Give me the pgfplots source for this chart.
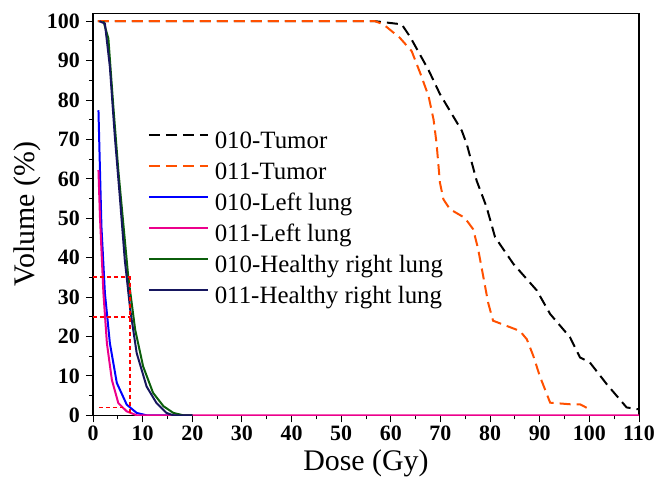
\documentclass[border=0pt]{standalone}
\usepackage{pgfplots}
\pgfplotsset{compat=1.18}
\usepackage{fontspec}
\setmainfont{Liberation Serif}
\definecolor{tumorB}{HTML}{FF5000}
\definecolor{hgreen}{HTML}{0B5E0B}
\definecolor{hnavy}{HTML}{16165E}
\begin{document}
\begin{tikzpicture}
\begin{axis}[
    scale only axis, width=546bp, height=402bp,
    xmin=0, xmax=110, ymin=0, ymax=102,
    xtick={0,10,...,110}, ytick={0,10,...,100},
    minor xtick={5,15,...,105}, minor ytick={5,15,...,95},
    tick align=outside, xtick pos=left, ytick pos=left,
    major tick length=7bp, minor tick length=4bp,
    every tick/.style={black, line width=1pt},
    axis line style={line width=1.2pt},
    xticklabel={\textbf{\pgfmathprintnumber[assume math mode=true]{\tick}}},
    yticklabel={\textbf{\pgfmathprintnumber[assume math mode=true]{\tick}}},
    tick label style={font=\fontsize{22}{22}\selectfont\bfseries, inner sep=0pt},
    xticklabel style={anchor=north, yshift=-3bp},
    yticklabel style={anchor=east, xshift=-6bp},
    xlabel={Dose (Gy)}, ylabel={Volume (\%)},
    label style={font=\fontsize{30}{30}\selectfont, inner sep=0pt},
    xlabel style={at={(axis description cs:0.5,-0.1363)}, anchor=base},
    ylabel style={at={(axis description cs:-0.0952,0.5)}, anchor=south},
    legend style={at={(axis cs:11,72.1)}, anchor=north west, draw=none, fill=none,
        inner sep=0pt, row sep=8bp,
        font=\fontsize{25}{25}\selectfont,
        nodes={inner sep=0pt, text height=17bp, text depth=6bp}},
    legend cell align=left,
    legend image code/.code={\draw[#1] (0bp,8bp) -- (59bp,8bp);
        \path (65bp,8bp);},
]
\addplot[black, line width=2pt, dash pattern=on 11bp off 6bp] coordinates {
(1,100) (56.8,100) (62.2,99.2) (63.9,96.0) (67.6,87.6) (69.9,81.5) (74.3,72.2)
(75.3,68.8) (77.3,59.5) (79.3,52.8) (81.0,45.2) (84.7,38.4) (89.4,31.7)
(92.1,25.7) (96.1,19.8) (98.1,14.7) (100.1,13.4) (103.5,7.9) (107.5,2.0) (110,1.5)};
\addlegendentry{010-Tumor}
\addplot[tumorB, line width=2pt, dash pattern=on 11bp off 6bp] coordinates {
(1,100) (56.8,100) (58.5,99.2) (61.8,95.8) (64.2,92.4) (65.9,86.9) (67.6,81.0)
(68.6,75.1) (69.2,69.2) (69.9,59.0) (70.6,54.8) (71.9,52.3) (74.9,50.1)
(76.6,47.2) (77.6,42.1) (78.6,35.4) (79.6,28.6) (80.6,24.0) (86.0,21.4)
(87.4,19.3) (88.7,15.1) (90.0,10.0) (92.1,3.2) (96.1,2.8) (98.1,2.8) (100.1,1.5)};
\addlegendentry{011-Tumor}
\addplot[blue, line width=2pt] coordinates {
(1.1,77.4) (1.3,67.3) (1.7,47.9) (2.4,31.0) (3.4,18.3) (4.8,8.2) (6.8,2.7)
(8.8,0.6) (10.8,0) (20,0)};
\addlegendentry{010-Left lung}
\addplot[magenta, line width=2pt] coordinates {
(1.1,62.2) (1.4,50.4) (2.1,31.0) (2.8,18.3) (3.8,9.0) (5.1,3.1) (6.8,1.0)
(8.8,0) (110,0)};
\addlegendentry{011-Left lung}
\addplot[hgreen, line width=2pt] coordinates {
(2.1,100) (3.1,95.6) (4.1,78.3) (5.1,62.2) (6.1,48.7) (7.1,35.2) (8.5,21.7)
(10.1,12.4) (12.1,5.7) (14.2,2.3) (16.2,0.6) (18.2,0) (20,0)};
\addlegendentry{010-Healthy right lung}
\addplot[hnavy, line width=2pt] coordinates {
(1.3,100) (2.4,99.4) (3.4,88.4) (4.4,70.7) (5.4,55.5) (6.4,39.5) (7.5,26.8)
(8.8,15.8) (10.8,7.3) (12.8,3.1) (14.8,0.6) (16.2,0) (20,0)};
\addlegendentry{011-Healthy right lung}
\addplot[red, forget plot, line width=1.8pt, dash pattern=on 4.5bp off 2.5bp] coordinates {(0,35) (7.4,35) (7.4,0)};
\addplot[red, forget plot, line width=1.8pt, dash pattern=on 4.5bp off 2.5bp] coordinates {(0,25) (7.4,25)};
\addplot[red, forget plot, line width=1.8pt, dash pattern=on 4.5bp off 2.5bp] coordinates {(1.2,2) (6,2)};
\end{axis}
\pgfresetboundingbox
\path ([xshift=-93bp,yshift=-76.7bp]current axis.south west)
    rectangle ([xshift=20bp,yshift=13.3bp]current axis.north east);
\end{tikzpicture}
\end{document}
